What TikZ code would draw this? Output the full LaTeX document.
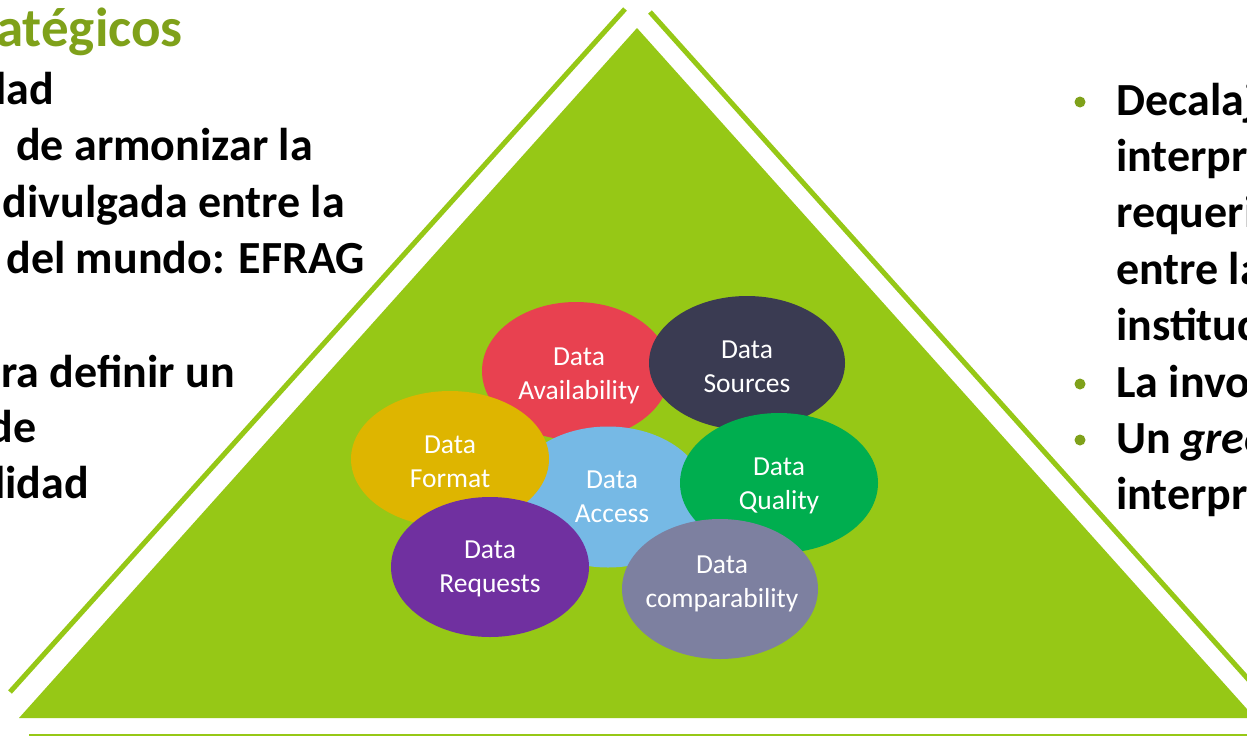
\documentclass[tikz,border=0pt]{standalone}
\usepackage{fontspec}
\setmainfont{Carlito}
\usetikzlibrary{shapes.geometric}

\definecolor{leaf}{RGB}{150,200,22}
\definecolor{olive}{RGB}{127,161,26}
\definecolor{availred}{RGB}{232,65,80}
\definecolor{sourcenavy}{RGB}{58,59,82}
\definecolor{formatgold}{RGB}{222,181,0}
\definecolor{accessblue}{RGB}{118,185,229}
\definecolor{qualitygreen}{RGB}{0,174,79}
\definecolor{requestpurple}{RGB}{112,48,160}
\definecolor{compgrey}{RGB}{125,128,160}

\begin{document}
\begin{tikzpicture}[x=1pt,y=-1pt,
  blob/.style={ellipse,inner sep=0pt,draw=none,fill=#1},
  blobtext/.style={text=white,align=center,inner sep=0pt,
    font=\fontsize{27.5}{34}\selectfont},
  leftline/.style={anchor=base east,inner sep=0pt,
    font=\fontsize{46}{56}\selectfont\bfseries},
  rightline/.style={anchor=base west,inner sep=0pt,
    font=\fontsize{46}{56}\selectfont\bfseries},
  frameline/.style={draw=leaf,line width=5pt,line cap=butt},
  bulletdot/.style={circle,fill=olive,inner sep=0pt,minimum size=11pt}]

% page area
\clip (0,0) rectangle (1247,737);
\fill[white] (0,0) rectangle (1247,737);

% pyramid and its outline strokes
\coordinate (apex) at (637,28);
\coordinate (baseL) at (19,718);
\coordinate (baseR) at (1255,718);
\fill[leaf] (apex) -- (baseL) -- (baseR) -- cycle;

\coordinate (lineLtop) at (625,9);
\coordinate (lineLbot) at (10,692);
\coordinate (lineRtop) at (650,12);
\coordinate (lineRbot) at (1300,737);
\draw[frameline] (lineLtop) -- (lineLbot);
\draw[frameline] (lineRtop) -- (lineRbot);

\coordinate (floorL) at (29,735);
\coordinate (floorR) at (1260,735);
\draw[draw=leaf,line width=2.5pt] (floorL) -- (floorR);

% data ellipses, back to front
\node[blob=availred,minimum width=188pt,minimum height=138pt] (availability) at (576,371) {};
\node[blob=sourcenavy,minimum width=196pt,minimum height=134pt] (sources) at (747,363) {};
\node[blob=accessblue,minimum width=196pt,minimum height=141pt] (access) at (608,497) {};
\node[blob=formatgold,minimum width=198pt,minimum height=136pt] (format) at (450,459) {};
\node[blob=qualitygreen,minimum width=198pt,minimum height=140pt] (quality) at (779,483) {};
\node[blob=requestpurple,minimum width=198pt,minimum height=140pt] (requests) at (490,567) {};
\node[blob=compgrey,minimum width=196pt,minimum height=140pt] (comparability) at (720,589) {};

% ellipse labels
\node[blobtext] (availability-label) at (579,376) {\strut Data\\\strut Availability};
\node[blobtext] (sources-label) at (747,369) {\strut Data\\\strut Sources};
\node[blobtext] (access-label) at (612,499) {\strut Data\\\strut Access};
\node[blobtext] (format-label) at (450,464) {\strut Data\\\strut Format};
\node[blobtext] (quality-label) at (779,486) {\strut Data\\\strut Quality};
\node[blobtext] (requests-label) at (490,569) {\strut Data\\\strut Requests};
\node[blobtext] (comparability-label) at (722,584) {\strut Data\\\strut comparability};

% left column
\node[anchor=base east,inner sep=0pt,text=olive,
  font=\fontsize{55}{62}\selectfont\bfseries] (title) at (183,46) {atégicos};
\node[leftline] (l1) at (54,104) {lad};
\node[leftline] (l2) at (313,160) {de armonizar la};
\node[leftline] (l3) at (345,217) {divulgada entre la};
\node[leftline] (l4) at (365,273) {del mundo: EFRAG};
\node[leftline] (l5) at (235,387) {ra definir un};
\node[leftline] (l6) at (37,442) {de};
\node[leftline] (l7) at (89,498) {lidad};

% right column
\node[bulletdot] (b1) at (1080,102) {};
\node[bulletdot] (b2) at (1080,384) {};
\node[bulletdot] (b3) at (1080,440) {};
\node[rightline] (r1) at (1116,115) {Decalaje};
\node[rightline] (r2) at (1116,171.4) {interpre};
\node[rightline] (r3) at (1116,227.8) {requeri};
\node[rightline] (r4) at (1116,284.2) {entre las};
\node[rightline] (r5) at (1116,340.6) {instituci};
\node[rightline] (r6) at (1116,397) {La invol};
\node[rightline] (r7) at (1116,453.4) {Un \textit{gree}};
\node[rightline] (r8) at (1116,509.8) {interpre};
\end{tikzpicture}
\end{document}
